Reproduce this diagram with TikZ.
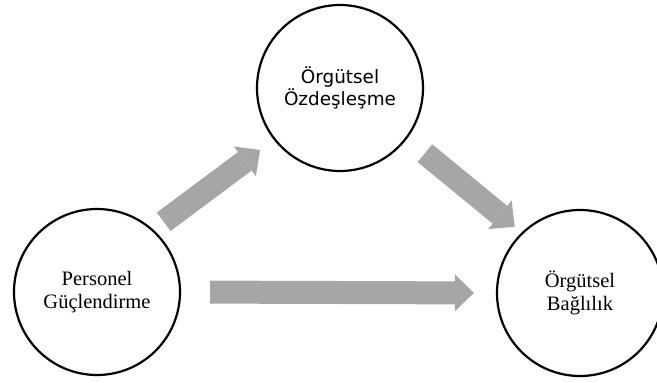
\documentclass[tikz,border=0pt]{standalone}
\usepackage{fontspec}
\setmainfont{Liberation Serif}
\newfontfamily\sansfont{DejaVu Sans}
\usetikzlibrary{arrows.meta}
\definecolor{arrowgray}{RGB}{166,166,166}
\begin{document}
\begin{tikzpicture}[x=1pt, y=-1pt,
    concept/.style={draw, circle, line width=2.2pt, minimum size=166pt,
        inner sep=0pt, align=center, font=\fontsize{20.5}{22.5}\selectfont},
    bigarrow/.style={draw=arrowgray, line width=23pt,
        -{Triangle[length=19pt, width=37pt, line width=0pt]}}]
    \useasboundingbox (0,0) rectangle (657,383);
    \node[concept] (pg) at (97,292) {Personel\\Güçlendirme};
    \node[concept, font=\sansfont\fontsize{18.4}{22}\selectfont]
        (oz) at (340,88) {Örgütsel\\Özdeşleşme};
    \node[concept] (ob) at (580,293) {Örgütsel\\Bağlılık};
    \begin{scope}[bigarrow]
    \draw[shorten <=13pt, shorten >=17pt] (pg.48) -- (oz.218);
    \draw[shorten <=23pt, shorten >=9pt] (oz.-37) -- (ob.134);
    \draw[shorten <=29pt, shorten >=22pt] (pg.east) -- (ob.west);
    \end{scope}
\end{tikzpicture}
\end{document}
